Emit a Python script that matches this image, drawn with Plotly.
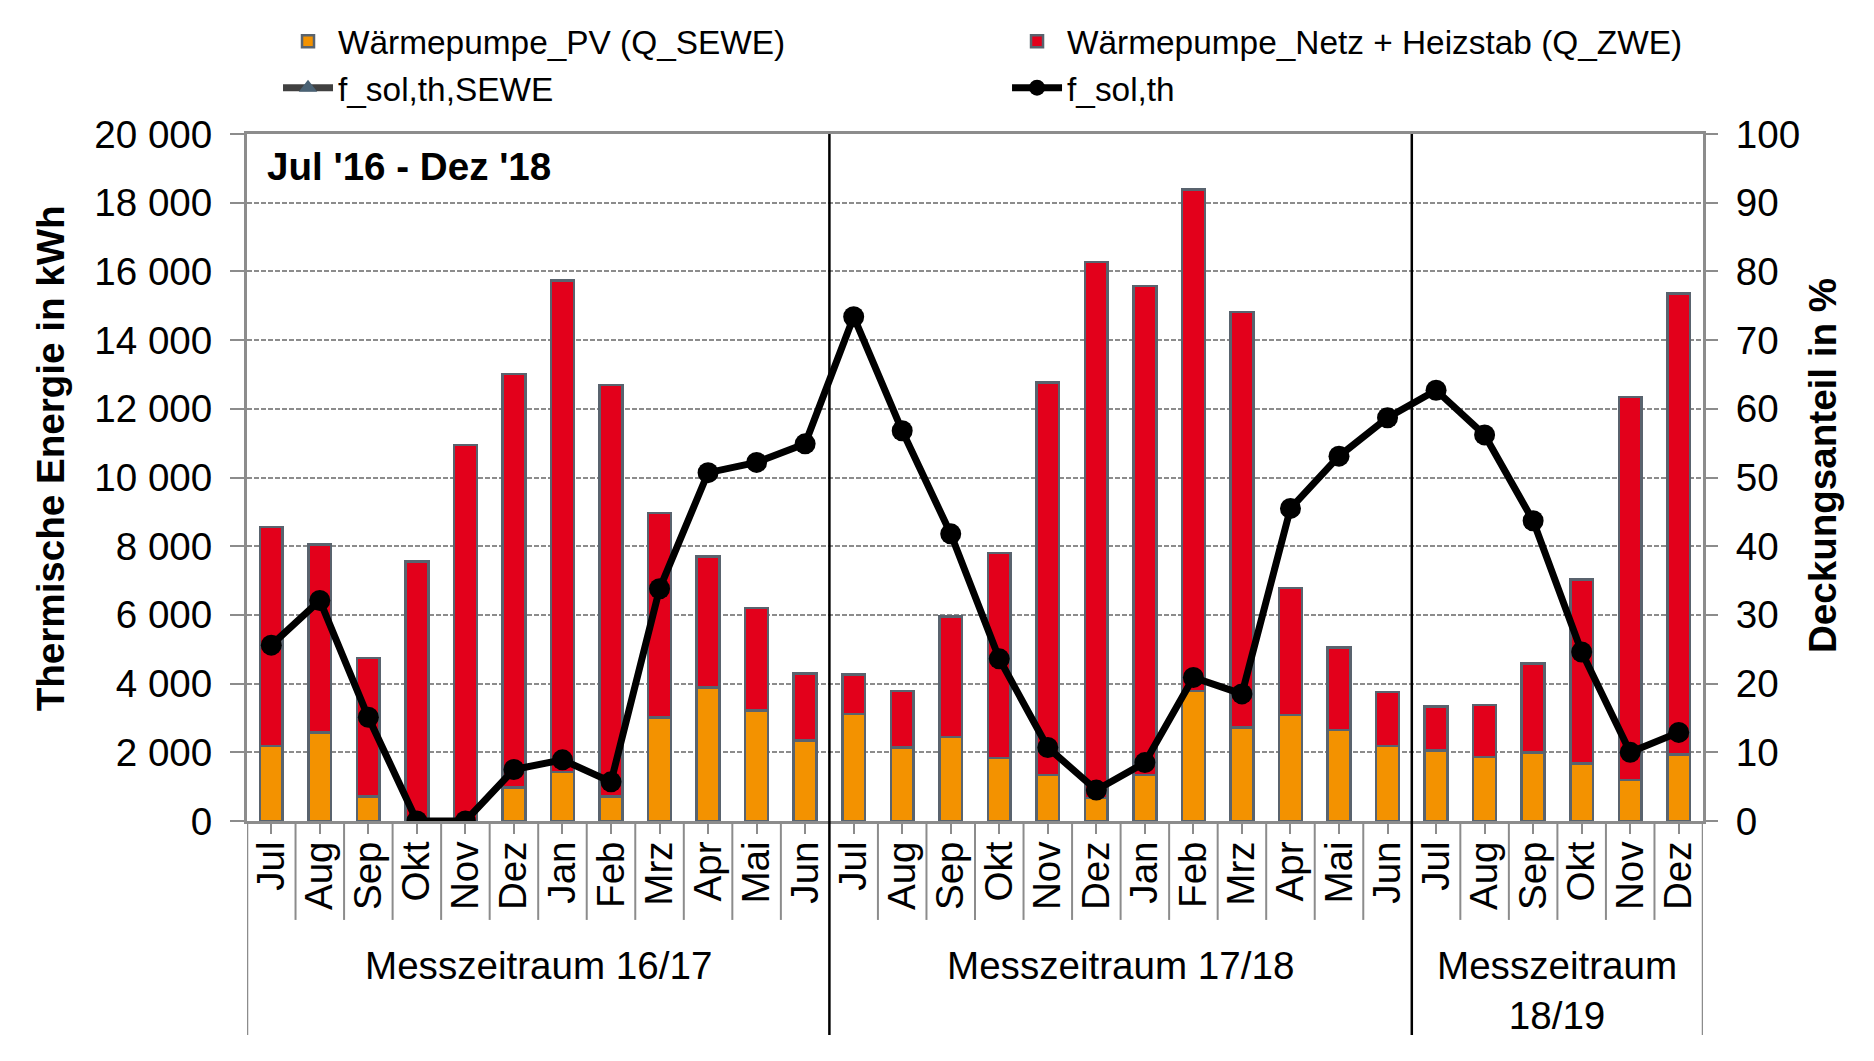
import plotly.graph_objects as go

# ---------------- data ----------------
months = ["Jul", "Aug", "Sep", "Okt", "Nov", "Dez", "Jan", "Feb", "Mrz", "Apr", "Mai", "Jun",
          "Jul", "Aug", "Sep", "Okt", "Nov", "Dez", "Jan", "Feb", "Mrz", "Apr", "Mai", "Jun",
          "Jul", "Aug", "Sep", "Okt", "Nov", "Dez"]
periods = ["Messzeitraum 16/17", "Messzeitraum 17/18", "Messzeitraum<br>18/19"]
period_lengths = [12, 12, 6]

# Wärmepumpe_PV (Q_SEWE) in kWh
q_sewe = [2180, 2570, 710, 0, 0, 980, 1430, 720, 3010, 3880, 3210, 2340,
          3120, 2140, 2450, 1830, 1340, 670, 1340, 3790, 2720, 3080, 2650, 2180,
          2050, 1870, 2000, 1680, 1200, 1930]
# Wärmepumpe_Netz + Heizstab (Q_ZWE) in kWh
q_zwe = [6380, 5480, 4040, 7560, 10940, 12030, 14300, 11980, 5950, 3820, 2990, 1950,
         1140, 1640, 3510, 5970, 11420, 15610, 14230, 14600, 12100, 3710, 2400, 1570,
         1290, 1500, 2580, 5350, 11140, 13420]
# f_sol,th in %
f_sol_th = [25.6, 32.1, 15.1, 0, 0, 7.5, 8.9, 5.7, 33.8, 50.7, 52.2, 54.9,
            73.4, 56.8, 41.8, 23.6, 10.7, 4.5, 8.5, 20.9, 18.5, 45.5, 53.1, 58.7,
            62.7, 56.2, 43.7, 24.6, 10.0, 12.9]
# f_sol,th,SEWE in % (no visible points in the chart, legend entry only)
f_sol_th_sewe = [None, None, None, None, None, None, None, None, None, None, None, None,
                 None, None, None, None, None, None, None, None, None, None, None, None,
                 None, None, None, None, None, None]

# ---------------- styles ----------------
FONT = "Liberation Sans, Arial, sans-serif"
FS = 38.6
ORANGE = "#F39200"
RED = "#E3001B"
OUTLINE = "#59636E"
GRAY = "#8C8C8C"

x = list(range(len(months)))

fig = go.Figure()
fig.add_trace(go.Bar(
    x=x, y=q_sewe, name="Wärmepumpe_PV (Q_SEWE)",
    marker=dict(color=ORANGE, line=dict(color=OUTLINE, width=2.5)),
    legend="legend", legendgroup="a", yaxis="y"))
fig.add_trace(go.Bar(
    x=x, y=q_zwe, name="Wärmepumpe_Netz + Heizstab (Q_ZWE)",
    marker=dict(color=RED, line=dict(color=OUTLINE, width=2.5)),
    legend="legend2", legendgroup="b", yaxis="y"))
fig.add_trace(go.Scatter(
    x=x, y=f_sol_th_sewe, name="f_sol,th,SEWE", mode="lines+markers",
    line=dict(color="#404040", width=7),
    marker=dict(symbol="triangle-up", size=21, color="#4A6274"),
    legend="legend", legendgroup="c", yaxis="y2", showlegend=True))
fig.add_trace(go.Scatter(
    x=x, y=f_sol_th, name="f_sol,th", mode="lines+markers",
    line=dict(color="#000000", width=7),
    marker=dict(symbol="circle", size=21, color="#000000"),
    legend="legend2", legendgroup="d", yaxis="y2"))

# ---------------- separators and group labels ----------------
shapes = []
annotations = []
n = len(months)
low_month = -0.144
low_group = -0.3115
group_edges = []
start = 0
for name, length in zip(periods, period_lengths):
    center = start + (length - 1) / 2
    annotations.append(dict(
        x=center, xref="x", y=(-0.246 if "<br>" in name else -0.211),
        yref="paper", text=name, showarrow=False,
        font=dict(family=FONT, size=FS, color="#000000"),
        xanchor="center", yanchor="middle"))
    start += length
    group_edges.append(start)

for i in range(n + 1):
    xb = i - 0.5
    if i == 0 or i == n:
        shapes.append(dict(type="line", xref="x", yref="paper", x0=xb, x1=xb,
                           y0=low_group, y1=0, line=dict(color=GRAY, width=2.5)))
    elif i in group_edges:
        shapes.append(dict(type="line", xref="x", yref="paper", x0=xb, x1=xb,
                           y0=low_group, y1=1, line=dict(color="#000000", width=2.5)))
    else:
        shapes.append(dict(type="line", xref="x", yref="paper", x0=xb, x1=xb,
                           y0=low_month, y1=0, line=dict(color=GRAY, width=2)))

annotations.append(dict(
    x=0.0124, xref="paper", y=0.952, yref="paper", text="<b>Jul '16 - Dez '18</b>",
    showarrow=False, xanchor="left", yanchor="middle",
    font=dict(family=FONT, size=FS, color="#000000")))
# axis titles
annotations.append(dict(
    x=-0.1353, xref="paper", y=0.528, yref="paper", text="<b>Thermische Energie in kWh</b>",
    showarrow=False, xanchor="center", yanchor="middle", textangle=-90,
    font=dict(family=FONT, size=FS, color="#000000")))
annotations.append(dict(
    x=1.0817, xref="paper", y=0.518, yref="paper", text="<b>Deckungsanteil in %</b>",
    showarrow=False, xanchor="center", yanchor="middle", textangle=-90,
    font=dict(family=FONT, size=FS, color="#000000")))

fig.update_layout(
    width=1874, height=1061,
    margin=dict(l=247, r=171, t=134, b=240),
    paper_bgcolor="white", plot_bgcolor="white",
    separators=", ",
    barmode="stack", bargap=0.53,
    font=dict(family=FONT, size=FS, color="#000000"),
    showlegend=True,
    legend=dict(x=0.0213, y=1.176, xanchor="left", yanchor="top", orientation="v",
                traceorder="normal", itemwidth=50, tracegroupgap=9,
                font=dict(family=FONT, size=33.4, color="#000000"),
                bgcolor="rgba(0,0,0,0)"),
    legend2=dict(x=0.522, y=1.176, xanchor="left", yanchor="top", orientation="v",
                 traceorder="normal", itemwidth=50, tracegroupgap=9,
                 font=dict(family=FONT, size=33.4, color="#000000"),
                 bgcolor="rgba(0,0,0,0)"),
    xaxis=dict(range=[-0.5, n - 0.5], tickmode="array", tickvals=x, ticktext=months,
               tickangle=-90, ticks="outside", ticklen=10, tickwidth=2, tickcolor=GRAY,
               ticklabelstandoff=-8,
               showline=True, linecolor=GRAY, linewidth=3, mirror=True,
               showgrid=False, zeroline=False,
               tickfont=dict(family=FONT, size=FS, color="#000000")),
    yaxis=dict(range=[0, 20000], dtick=2000, tickformat=",.0f",
               ticks="outside", ticklen=14, tickwidth=2, tickcolor=GRAY,
               ticklabelstandoff=10,
               showline=True, linecolor=GRAY, linewidth=3,
               showgrid=True, gridcolor=GRAY, gridwidth=2, griddash="5px,2px",
               zeroline=False,
               tickfont=dict(family=FONT, size=FS, color="#000000")),
    yaxis2=dict(range=[0, 100], dtick=10, overlaying="y", side="right",
                ticks="outside", ticklen=12, tickwidth=2, tickcolor=GRAY,
                ticklabelstandoff=10,
                showline=True, linecolor=GRAY, linewidth=3,
                showgrid=False, zeroline=False,
                tickfont=dict(family=FONT, size=FS, color="#000000")),
    shapes=shapes,
    annotations=annotations,
)

fig.write_html("out.html", config={"displayModeBar": False},
               post_script="document.body.style.margin='0';document.body.style.overflow='hidden';")
